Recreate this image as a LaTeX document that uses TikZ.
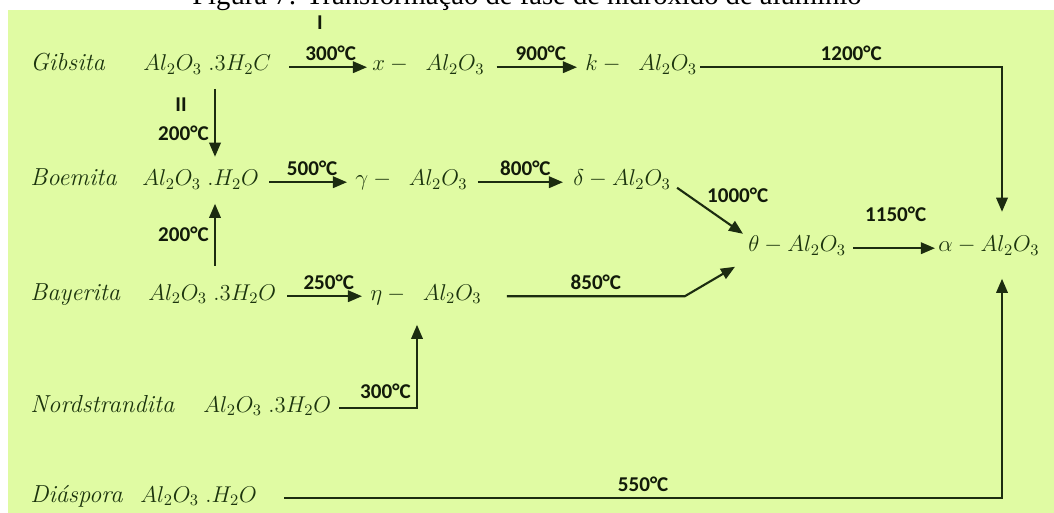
\RequirePackage{fix-cm}
\documentclass[tikz,border=0pt]{standalone}
\usepackage{fontspec}
\newfontfamily\calfont{Carlito}
\newfontfamily\timesfont{Liberation Serif}
\usepackage{tikz}
\usetikzlibrary{arrows.meta,positioning,calc}

\definecolor{bggreen}{RGB}{224,251,163}
\definecolor{inkgreen}{RGB}{28,52,14}
\definecolor{labelink}{RGB}{18,26,10}
\definecolor{linegreen}{RGB}{28,44,16}

\begin{document}
\begin{tikzpicture}[x=0.02cm, y=-0.02cm,
  mineral/.style={inner sep=0pt, anchor=base west, text=inkgreen, font=\fontsize{14}{16}\selectfont\itshape},
  formula/.style={inner sep=0pt, anchor=base west, text=inkgreen, font=\fontsize{13}{15}\selectfont},
  temp/.style={inner sep=3pt, text=labelink, font=\calfont\bfseries\fontsize{12}{14}\selectfont},
  arr/.style={draw=linegreen, line width=1.2pt, -{Triangle[length=8pt,width=6.5pt]}}]
\useasboundingbox (0,0) rectangle (1054,513);
\fill[white] (0,0) rectangle (1054,513);
\fill[bggreen] (8,10) rectangle (1054,513);
\node[anchor=base, font=\timesfont\fontsize{16.3}{18}\selectfont] (title) at (527,5)
  {Figura 7: Transformação de fase de hidróxido de alumínio};

% minerals and phases
\node[mineral] (gib) at (30,71) {Gibsita};
\node[formula] (gibF) at (143,71) {$Al_2O_3\;.3H_2C$};
\node[formula] (chi) at (372,71) {$x-\;\;Al_2O_3$};
\node[formula] (kap) at (585,71) {$k-\;\;Al_2O_3$};
\node[mineral] (boe) at (30,186) {Boemita};
\node[formula] (boeF) at (142,186) {$Al_2O_3\;.H_2O$};
\node[formula] (gam) at (355,186) {$\gamma-\;\;Al_2O_3$};
\node[formula] (del) at (573,186) {$\delta-Al_2O_3$};
\node[formula] (the) at (748,252) {$\theta-Al_2O_3$};
\node[formula] (alp) at (938,252) {$\alpha-Al_2O_3$};
\node[mineral] (bay) at (30,300) {Bayerita};
\node[formula] (bayF) at (148,300) {$Al_2O_3\;.3H_2O$};
\node[formula] (eta) at (370,300) {$\eta-\;\;Al_2O_3$};
\node[mineral] (nor) at (30,412) {Nordstrandita};
\node[formula] (norF) at (203,412) {$Al_2O_3\;.3H_2O$};
\node[mineral] (dia) at (30,502) {Diáspora};
\node[formula] (diaF) at (140,502) {$Al_2O_3\;.H_2O$};
\node[temp, anchor=base] (romI) at (320,30) {I};
\node[temp, anchor=base] (romII) at (181,112) {II};

\coordinate (colA) at (215,0);
\coordinate (colB) at (417,0);
\coordinate (colC) at (1002,0);

% first row
\draw[arr, shorten >=0.1cm] ($(gibF.mid east)+(18,0)$) -- node[temp, above]{300°C} (chi.mid west);
\draw[arr, shorten >=0.16cm] ($(chi.mid east)+(12,0)$) -- node[temp, above]{900°C} (kap.mid west);
\draw[arr] ($(kap.mid east)+(3,0)$) -| node[temp, above, pos=0.25]{1200°C} ($(alp.north -| colC)+(0,-24)$);
% vertical ones into boemita
\draw[arr] ($(gibF.south -| colA)+(0,14)$) -- node[temp, left, pos=0.65]{200°C} ($(boeF.north -| colA)+(0,-13)$);
\draw[arr] ($(bayF.north -| colA)+(0,-18)$) -- node[temp, left]{200°C} ($(boeF.south -| colA)+(0,14)$);
% second row
\draw[arr, shorten >=0.16cm] ($(boeF.mid east)+(10,0)$) -- node[temp, above]{500°C} (gam.mid west);
\draw[arr, shorten >=0.2cm] ($(gam.mid east)+(10,0)$) -- node[temp, above]{800°C} (del.mid west);
\draw[arr] ($(del.south east)+(6,-2)$) -- node[temp, pos=0.4, anchor=south west, inner sep=1.5pt]{1000°C} ($(the.north west)+(-5,-2)$);
% bayerita row
\draw[arr, shorten >=0.16cm] ($(bayF.mid east)+(11,0)$) -- node[temp, above]{250°C} (eta.mid west);
\draw[arr] ($(eta.mid east)+(25,0)$) -- node[temp, above]{850°C} ++(178,0) -- ($(the.south west)+(-13,11)$);
\draw[arr] ($(norF.mid east)+(8,0)$) -| node[temp, left, pos=0.6]{300°C} ($(eta.south -| colB)+(0,20)$);
% to alpha
\draw[arr, shorten >=0.06cm] ($(the.mid east)+(7,0)$) -- node[temp, above=0.4cm]{1150°C} (alp.mid west);
\draw[arr] ($(diaF.mid east)+(27,0)$) -| node[temp, above, pos=0.25]{550°C} ($(alp.south -| colC)+(0,23)$);
\end{tikzpicture}
\end{document}
